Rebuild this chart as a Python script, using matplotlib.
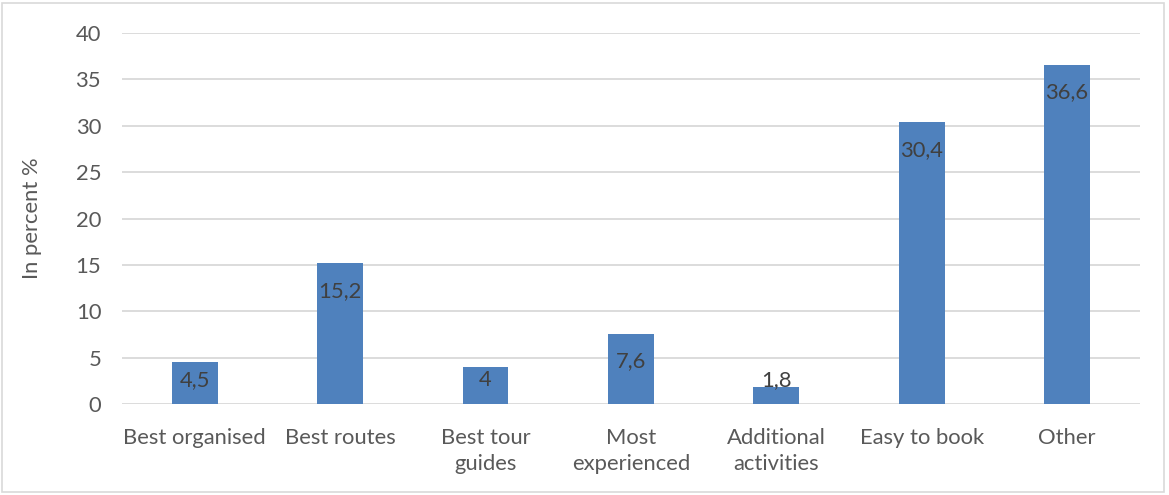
import matplotlib
matplotlib.use("Agg")
import matplotlib.pyplot as plt
from matplotlib.patches import Rectangle

# Reasons for choosing a tour operator
categories = ["Best organised", "Best routes", "Best tour\nguides", "Most\nexperienced",
              "Additional\nactivities", "Easy to book", "Other"]
values = [4.5, 15.2, 4, 7.6, 1.8, 30.4, 36.6]
y_ticks = [0, 5, 10, 15, 20, 25, 30, 35, 40]

plt.rcParams['font.family'] = ['Lato', 'DejaVu Sans']
FS = 15.8

fig = plt.figure(figsize=(11.69, 4.95), dpi=100)
ax = fig.add_axes([0.1044, 0.1838, 0.8706, 0.7495])

x = range(len(categories))
ax.bar(x, values, width=0.315, color='#4F81BD', zorder=3)

# value labels sit just inside the top of each bar
for i, v in enumerate(values):
    label = f"{v:g}".replace('.', ',')
    ax.text(i, max(v - 3.0, 2.6), label, ha='center', va='center',
            fontsize=FS, color='#404040', zorder=4)

ax.set_xlim(-0.5, len(categories) - 0.5)
ax.set_ylim(0, 40)
ax.set_yticks(y_ticks)
ax.set_xticks(list(x))
ax.set_xticklabels(categories, fontsize=FS, color='#595959', linespacing=1.4)
ax.tick_params(axis='y', labelsize=FS, labelcolor='#595959', length=0, pad=15)
ax.tick_params(axis='x', length=0, pad=17)
ax.yaxis.grid(True, color='#D9D9D9', linewidth=1.3, zorder=0)
for s in ax.spines.values():
    s.set_visible(False)
ax.set_ylabel("In percent %", fontsize=FS, color='#595959', labelpad=24)

# light frame around the whole chart
fig.patches.append(Rectangle((0.002, 0.006), 0.994, 0.988, transform=fig.transFigure,
                             fill=False, edgecolor='#D9D9D9', linewidth=1.2))

fig.savefig("out.png", dpi=100)
